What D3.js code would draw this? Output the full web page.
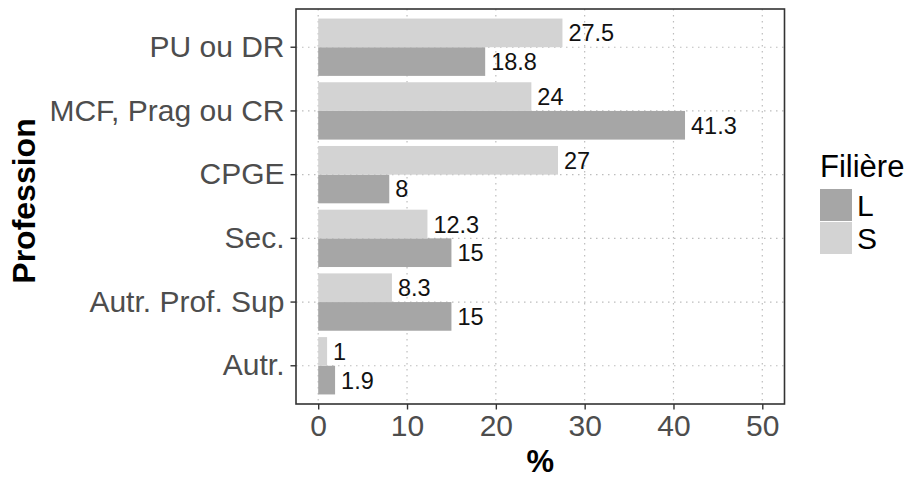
<!DOCTYPE html>
<html><head><meta charset="utf-8">
<script src="https://cdn.jsdelivr.net/npm/d3@7"></script>
<style>
html,body{margin:0;padding:0;background:#fff;}
svg{display:block;font-family:"Liberation Sans",Arial,Helvetica,sans-serif;}
</style></head>
<body><svg id="chart" width="908" height="479"></svg>
<script>
const categories = ["PU ou DR","MCF, Prag ou CR","CPGE","Sec.","Autr. Prof. Sup","Autr."];
const seriesNames = ["L","S"];
const valuesL = [18.8, 41.3, 8, 15, 15, 1.9];
const valuesS = [27.5, 24, 27, 12.3, 8.3, 1];
const labelsL = ["18.8","41.3","8","15","15","1.9"];
const labelsS = ["27.5","24","27","12.3","8.3","1"];
const xTicks = [0,10,20,30,40,50];
const colors = {L:"#a6a6a6", S:"#d3d3d3"};

const svg = d3.select("#chart");
const P = {left:296, right:784.5, top:9, bottom:404};

const x = d3.scaleLinear().domain([-2.5, 52.5]).range([P.left, P.right]);
const y = d3.scaleBand().domain(categories).range([P.top, P.bottom]).paddingInner(0).paddingOuter(0.1);
const step = y.step();
const sub = d3.scaleBand().domain(["S","L"]).range([0.05*step, 0.95*step]);

const data = [];
categories.forEach((c,i)=>{
  data.push({cat:c, s:"L", v:valuesL[i], lab:labelsL[i]});
  data.push({cat:c, s:"S", v:valuesS[i], lab:labelsS[i]});
});

// grid
const g = svg.append("g");
g.selectAll(".vg").data(xTicks).enter().append("line")
  .attr("x1",d=>x(d)).attr("x2",d=>x(d)).attr("y1",P.top).attr("y2",P.bottom)
  .attr("stroke","#bdbdbd").attr("stroke-width",1.2).attr("stroke-dasharray","1.5,4.5");
g.selectAll(".hg").data(categories).enter().append("line")
  .attr("x1",P.left).attr("x2",P.right).attr("y1",d=>y(d)+step/2).attr("y2",d=>y(d)+step/2)
  .attr("stroke","#bdbdbd").attr("stroke-width",1.2).attr("stroke-dasharray","1.5,4.5");

// bars
svg.append("g").selectAll("rect").data(data).enter().append("rect")
  .attr("x", x(0))
  .attr("y", d=>y(d.cat)+sub(d.s))
  .attr("width", d=>x(d.v)-x(0))
  .attr("height", sub.bandwidth())
  .attr("fill", d=>colors[d.s]);

// value labels
svg.append("g").selectAll("text").data(data).enter().append("text")
  .attr("x", d=>x(d.v)+6)
  .attr("y", d=>y(d.cat)+sub(d.s)+sub.bandwidth()/2+8.5)
  .attr("font-size", 23.5).attr("fill","#111")
  .text(d=>d.lab);

// panel border
svg.append("rect").attr("x",P.left).attr("y",P.top)
  .attr("width",P.right-P.left).attr("height",P.bottom-P.top)
  .attr("fill","none").attr("stroke","#333").attr("stroke-width",1.6);

// x axis
const xa = svg.append("g").attr("transform",`translate(0,${P.bottom})`)
  .call(d3.axisBottom(x).tickValues(xTicks).tickSize(5.5).tickPadding(5).tickFormat(d3.format("d")));
xa.select(".domain").remove();
xa.selectAll(".tick line").attr("stroke","#333").attr("stroke-width",1.4);
xa.selectAll(".tick text").attr("font-size",30).attr("fill","#4d4d4d").attr("font-family","Liberation Sans, Arial, sans-serif");

// y axis
const ya = svg.append("g").attr("transform",`translate(${P.left},0)`)
  .call(d3.axisLeft(y).tickSize(5.5).tickPadding(6));
ya.select(".domain").remove();
ya.selectAll(".tick line").attr("stroke","#333").attr("stroke-width",1.4);
ya.selectAll(".tick text").attr("font-size",30).attr("fill","#4d4d4d").attr("font-family","Liberation Sans, Arial, sans-serif");

// axis titles
svg.append("text").attr("x",(P.left+P.right)/2).attr("y",472)
  .attr("text-anchor","middle").attr("font-size",31).attr("font-weight","bold").attr("fill","#000").text("%");
svg.append("text").attr("transform",`translate(35,201) rotate(-90)`)
  .attr("text-anchor","middle").attr("font-size",32).attr("font-weight","bold").attr("fill","#000").text("Profession");

// legend
const lg = svg.append("g");
lg.append("text").attr("x",820).attr("y",177).attr("font-size",31).attr("fill","#000").text("Filière");
seriesNames.forEach((s,i)=>{
  lg.append("rect").attr("x",820).attr("y",189+i*33).attr("width",32).attr("height",32).attr("fill",colors[s]);
  lg.append("text").attr("x",857).attr("y",189+i*33+16+11).attr("font-size",30).attr("fill","#000").text(s);
});
</script></body></html>
